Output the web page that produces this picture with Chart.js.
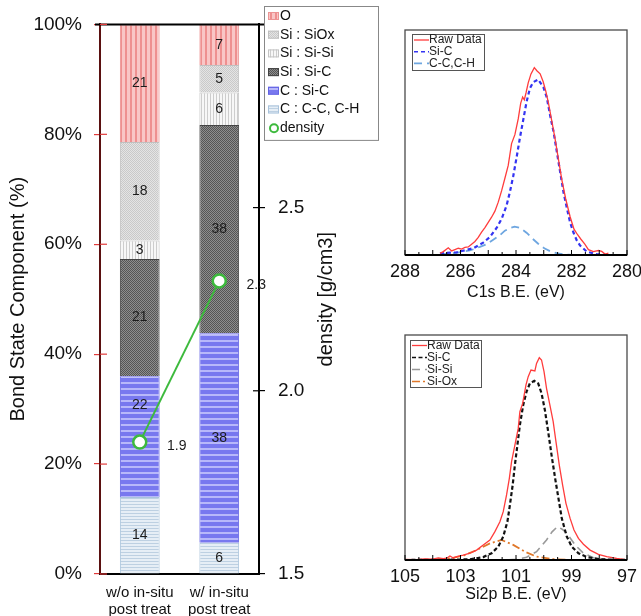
<!DOCTYPE html>
<html lang="en">
<head>
<meta charset="UTF-8">
<title>Bond state component and XPS spectra</title>
<script src="https://cdn.jsdelivr.net/npm/chart.js"></script>
<style>
  body { margin: 0; background: #fff; }
  #wrap { position: relative; width: 641px; height: 616px; overflow: hidden; }
  canvas { position: absolute; }
</style>
</head>
<body>
<div id="wrap">
  <canvas id="bondChart" width="390" height="616" style="left:0;top:0"></canvas>
  <canvas id="c1sChart" width="251" height="310" style="left:390px;top:0"></canvas>
  <canvas id="si2pChart" width="251" height="306" style="left:390px;top:310px"></canvas>
</div>

<script>
// ---- bond state bars (percent) ----
const groups = [['w/o in-situ', 'post treat'], ['w/ in-situ', 'post treat']];
const oPct = [21.4, 7.4];
const siOxPct = [17.9, 5.0];
const siSiPct = [3.4, 5.9];
const siCPct = [21.3, 37.9];
const cSiCPct = [22.0, 38.1];
const cCHPct = [14.0, 5.7];
const density = [1.86, 2.3];
const pctTicks = [0, 20, 40, 60, 80, 100];
const densityTicks = [1.5, 2.0, 2.5];

// ---- C1s spectrum ----
const c1sTickLabels = [288, 286, 284, 282, 280];
const c1sRawEV = [286.74, 286.62, 286.44, 286.32, 286.20, 286.08, 285.96, 285.84, 285.72, 285.60, 285.48, 285.36, 285.24, 285.12, 285.00, 284.88, 284.76, 284.64, 284.52, 284.40, 284.28, 284.16, 284.04, 283.92, 283.83, 283.76, 283.70, 283.64, 283.56, 283.46, 283.34, 283.24, 283.13, 283.02, 282.92, 282.83, 282.71, 282.59, 282.47, 282.35, 282.21, 282.05, 281.91, 281.78, 281.66, 281.52, 281.39, 281.21, 281.03, 280.91, 280.79, 280.67];
const c1sRaw = [0.7, 1.5, 3.2, 1.8, 2.4, 3.0, 2.6, 3.4, 3.6, 4.8, 6.0, 7.8, 10.2, 12.2, 14.5, 16.8, 19.5, 23.5, 28.5, 34.1, 39.8, 49.5, 53.5, 60.5, 67.5, 70.2, 69.0, 72.0, 76.5, 80.5, 83.3, 81.8, 80.5, 77.0, 72.5, 67.5, 59.5, 51.5, 42.5, 33.5, 25.0, 17.0, 11.5, 9.0, 7.0, 4.8, 2.4, 1.5, 2.0, 1.6, 0.4, 0.8];
const c1sSiCEV = [286.74, 286.14, 285.54, 285.18, 284.94, 284.70, 284.52, 284.34, 284.22, 284.10, 283.97, 283.86, 283.74, 283.62, 283.50, 283.38, 283.20, 283.01, 282.89, 282.77, 282.65, 282.53, 282.41, 282.29, 282.17, 282.05, 281.93, 281.81, 281.69, 281.45, 281.10, 280.73];
const c1sSiC = [0.7, 1.2, 3.0, 5.5, 8.0, 12.0, 16.0, 22.0, 28.0, 35.0, 44.0, 52.0, 60.0, 68.0, 74.0, 76.8, 78.0, 74.5, 70.0, 62.0, 55.0, 46.0, 37.0, 28.0, 21.0, 14.5, 10.0, 6.5, 4.2, 1.5, 0.4, 0];
const c1sCCEV = [286.74, 286.14, 285.66, 285.30, 285.06, 284.82, 284.58, 284.40, 284.22, 284.05, 283.85, 283.61, 283.40, 283.20, 282.98, 282.77, 282.50, 282.20, 281.90];
const c1sCC = [0.3, 1.0, 2.0, 3.6, 4.8, 6.8, 8.8, 10.8, 12.0, 12.6, 12.0, 9.8, 7.2, 5.0, 3.0, 1.7, 0.7, 0.2, 0];

// ---- Si2p spectrum ----
const si2pTickLabels = [105, 103, 101, 99, 97];
const si2pRawEV = [105.0, 104.6, 104.3, 104.0, 103.8, 103.62, 103.50, 103.38, 103.26, 103.14, 102.90, 102.66, 102.42, 102.18, 101.94, 101.76, 101.58, 101.46, 101.34, 101.24, 101.16, 101.04, 100.92, 100.86, 100.76, 100.64, 100.56, 100.46, 100.32, 100.26, 100.16, 100.08, 99.99, 99.90, 99.78, 99.66, 99.56, 99.44, 99.32, 99.20, 99.05, 98.91, 98.75, 98.57, 98.33, 98.03, 97.73, 97.37, 97.0];
const si2pRaw = [0.3, 0.2, 0.5, 0.4, 0.9, 0.6, 0.8, 1.8, 0.9, 1.5, 2.2, 3.0, 4.4, 6.7, 8.9, 12.6, 17.0, 21.5, 28.9, 36.3, 43.7, 51.1, 58.5, 65.9, 69.6, 77.8, 81.5, 84.4, 84.0, 87.4, 89.9, 88.9, 83.7, 76.3, 68.9, 61.5, 52.6, 42.2, 33.3, 25.2, 18.5, 13.3, 9.6, 7.0, 4.4, 2.5, 1.5, 0.7, 0];
const si2pSiCEV = [105.0, 103.5, 102.66, 102.18, 101.88, 101.64, 101.46, 101.31, 101.22, 101.12, 101.04, 100.95, 100.86, 100.74, 100.62, 100.50, 100.34, 100.20, 100.08, 99.96, 99.84, 99.72, 99.59, 99.47, 99.35, 99.17, 98.99, 98.75, 98.45, 97.97, 97.0];
const si2pSiC = [0, 0.1, 0.3, 1.3, 3.0, 5.9, 10.4, 17.0, 24.4, 33.3, 42.2, 51.1, 60.0, 68.9, 74.8, 78.5, 79.6, 78.5, 74.1, 66.7, 57.0, 46.7, 36.3, 27.4, 18.5, 10.4, 5.9, 3.0, 1.3, 0.3, 0];
const si2pSiSiEV = [105.0, 101.5, 100.98, 100.62, 100.26, 99.90, 99.70, 99.51, 99.35, 99.17, 98.87, 98.57, 98.21, 97.73, 97.0];
const si2pSiSi = [0, 0, 0.3, 1.2, 3.7, 8.9, 12.5, 14.8, 13.8, 11.9, 6.7, 3.0, 1.0, 0.2, 0];
const si2pSiOxEV = [105.0, 104.5, 103.98, 103.38, 102.90, 102.42, 101.94, 101.52, 101.10, 100.68, 100.26, 99.66, 98.93, 97.0];
const si2pSiOx = [0, 0.05, 0.1, 0.7, 1.9, 4.4, 7.4, 8.9, 6.7, 3.7, 1.5, 0.4, 0, 0];

Chart.defaults.font.family = '"Liberation Sans", Arial, sans-serif';
Chart.defaults.color = '#111';
Chart.defaults.animation = false;
Chart.defaults.plugins.legend.display = false;
Chart.defaults.plugins.tooltip.enabled = false;

const bondCtx = document.getElementById('bondChart').getContext('2d');

function pattern(w, h, paint) {
  const c = document.createElement('canvas');
  c.width = w; c.height = h;
  paint(c.getContext('2d'));
  return bondCtx.createPattern(c, 'repeat');
}

const fills = {
  o: pattern(5, 1, g => { g.fillStyle = '#f9c6c6'; g.fillRect(0, 0, 5, 1); g.fillStyle = '#ee9090'; g.fillRect(0, 0, 2, 1); }),
  siOx: pattern(2, 2, g => { g.fillStyle = '#e4e4e4'; g.fillRect(0, 0, 2, 2); g.fillStyle = '#c9c9c9'; g.fillRect(0, 0, 1, 1); g.fillRect(1, 1, 1, 1); }),
  siSi: pattern(3, 1, g => { g.fillStyle = '#f7f7f7'; g.fillRect(0, 0, 3, 1); g.fillStyle = '#cdcdcd'; g.fillRect(0, 0, 1, 1); }),
  siC: pattern(2, 2, g => { g.fillStyle = '#8e8e8e'; g.fillRect(0, 0, 2, 2); g.fillStyle = '#555'; g.fillRect(0, 0, 1, 1); g.fillRect(1, 1, 1, 1); }),
  cSiC: pattern(1, 6, g => { g.fillStyle = '#7878ef'; g.fillRect(0, 0, 1, 6); g.fillStyle = '#b8b8fa'; g.fillRect(0, 4, 1, 2); }),
  cCH: pattern(1, 3, g => { g.fillStyle = '#e6eef6'; g.fillRect(0, 0, 1, 3); g.fillStyle = '#bdd0e2'; g.fillRect(0, 0, 1, 1); })
};

const bar = (label, data, fill, edge) => ({
  type: 'bar', label, data, backgroundColor: fill, borderColor: edge, borderWidth: 1,
  yAxisID: 'y', order: 1, barPercentage: 0.5, categoryPercentage: 1
});

const bondDecor = {
  id: 'bondDecor',
  afterDatasetsDraw(chart) {
    const ctx = chart.ctx;
    const lineIdx = chart.data.datasets.findIndex(d => d.type === 'line');
    const marks = chart.getDatasetMeta(lineIdx).data;
    ctx.save();
    ctx.font = '14px "Liberation Sans", Arial, sans-serif';
    ctx.fillStyle = '#1c1c1c';
    ctx.textAlign = 'center';
    ctx.textBaseline = 'middle';
    chart.data.datasets.forEach((ds, di) => {
      const meta = chart.getDatasetMeta(di);
      meta.data.forEach((el, i) => {
        if (ds.type === 'bar') {
          let cy = (el.y + el.base) / 2;
          // keep the number clear of the density marker
          const m = marks[i];
          if (m && Math.abs(m.y - cy) < 18) cy = m.y - 37;
          ctx.fillText(String(Math.round(ds.data[i])), el.x, cy);
        } else {
          ctx.fillText(ds.data[i].toFixed(1), el.x + 37, el.y + 4);
        }
      });
    });
    ctx.restore();
  },
  afterDraw(chart) {
    const { ctx, chartArea: a, scales } = chart;
    ctx.save();
    // frame top
    ctx.strokeStyle = '#000';
    ctx.lineWidth = 2;
    ctx.beginPath(); ctx.moveTo(a.left - 5, a.top); ctx.lineTo(a.right + 5, a.top); ctx.stroke();
    // inward tick marks
    ctx.lineWidth = 1.2;
    ctx.strokeStyle = '#e03a3a';
    scales.y.ticks.forEach(t => {
      const py = scales.y.getPixelForValue(t.value);
      ctx.beginPath(); ctx.moveTo(a.left, py); ctx.lineTo(a.left + 7, py); ctx.stroke();
    });
    ctx.strokeStyle = '#000';
    scales.y1.ticks.forEach(t => {
      const py = scales.y1.getPixelForValue(t.value);
      ctx.beginPath(); ctx.moveTo(a.right - 6, py); ctx.lineTo(a.right, py); ctx.stroke();
    });
    // right axis title, reading bottom to top
    ctx.translate(326, (a.top + a.bottom) / 2);
    ctx.rotate(-Math.PI / 2);
    ctx.font = '20px "Liberation Sans", Arial, sans-serif';
    ctx.fillStyle = '#111';
    ctx.textAlign = 'center';
    ctx.textBaseline = 'middle';
    ctx.fillText('density [g/cm3]', 0, 0);
    ctx.restore();

    // legend, top entry first
    ctx.save();
    const bx = 264, by = 6, bw = 114, step = 18.7;
    const items = chart.data.datasets.slice(0, 6).reverse().concat(chart.data.datasets[6]);
    const bh = 3 + step * items.length;
    ctx.fillStyle = '#fff';
    ctx.fillRect(bx, by, bw, bh);
    ctx.strokeStyle = '#888';
    ctx.lineWidth = 1;
    ctx.strokeRect(bx + 0.5, by + 0.5, bw, bh);
    ctx.font = '14px "Liberation Sans", Arial, sans-serif';
    ctx.textBaseline = 'middle';
    items.forEach((ds, i) => {
      const cy = by + 10 + i * step;
      if (ds.type === 'bar') {
        ctx.fillStyle = ds.backgroundColor;
        ctx.fillRect(bx + 4, cy - 4, 11, 8);
        ctx.strokeStyle = ds.borderColor;
        ctx.strokeRect(bx + 4.5, cy - 3.5, 10, 7);
      } else {
        ctx.beginPath();
        ctx.arc(bx + 10, cy, 4, 0, Math.PI * 2);
        ctx.fillStyle = '#fff'; ctx.fill();
        ctx.strokeStyle = ds.borderColor; ctx.lineWidth = 2; ctx.stroke();
        ctx.lineWidth = 1;
      }
      ctx.fillStyle = '#111';
      ctx.fillText(ds.label, bx + 16, cy);
    });
    ctx.restore();
  }
};

new Chart(bondCtx, {
  data: {
    labels: groups,
    datasets: [
      bar('C : C-C, C-H', cCHPct, fills.cCH, '#a9c3dc'),
      bar('C : Si-C', cSiCPct, fills.cSiC, '#6464e4'),
      bar('Si : Si-C', siCPct, fills.siC, '#444'),
      bar('Si : Si-Si', siSiPct, fills.siSi, '#c4c4c4'),
      bar('Si : SiOx', siOxPct, fills.siOx, '#c0c0c0'),
      bar('O', oPct, fills.o, '#ec9494'),
      {
        type: 'line', label: 'density', data: density, yAxisID: 'y1', order: 0,
        borderColor: '#3dba3d', borderWidth: 2,
        pointRadius: 6.5, pointBackgroundColor: '#fff', pointBorderColor: '#3dba3d', pointBorderWidth: 2.5
      }
    ]
  },
  options: {
    responsive: false,
    layout: { padding: { top: 21, right: 50, bottom: 0, left: 0 } },
    scales: {
      x: {
        stacked: true,
        grid: { display: false, drawTicks: false },
        border: { color: '#000', width: 2 },
        ticks: { padding: 10, font: { size: 15, lineHeight: 1.15 }, color: '#111', maxRotation: 0 },
        afterFit: s => { s.height = 42; }
      },
      y: {
        position: 'left', stacked: true, min: 0, max: 100,
        grid: { drawOnChartArea: false, color: '#e03a3a', tickColor: '#e03a3a', tickLength: 6, lineWidth: 1.2 },
        border: { color: '#5a1010', width: 2 },
        ticks: { padding: 12, font: { size: 19 }, color: '#111', callback: v => v + '%' },
        title: { display: true, text: 'Bond State Component (%)', font: { size: 20 }, color: '#111', padding: { top: 6, bottom: 0 } },
        afterBuildTicks: s => { s.ticks = pctTicks.map(v => ({ value: v })); },
        afterFit: s => { s.width = 100; }
      },
      y1: {
        position: 'right', min: 1.5, max: 3.0,
        grid: { drawOnChartArea: false, color: '#000', tickColor: '#000', tickLength: 6, lineWidth: 1.2 },
        border: { color: '#000', width: 2 },
        ticks: { padding: 13, font: { size: 19 }, color: '#111', callback: v => v.toFixed(1) },
        afterBuildTicks: s => { s.ticks = densityTicks.map(v => ({ value: v })); },
        afterFit: s => { s.width = 81; }
      }
    }
  },
  plugins: [bondDecor]
});

// ---- spectra ----
const pts = (xs, ys) => xs.map((x, i) => ({ x, y: ys[i] }));

const spectrumDecor = {
  id: 'spectrumDecor',
  afterDraw(chart, args, opts) {
    const { ctx, chartArea: a, scales: { x } } = chart;
    ctx.save();
    ctx.setLineDash([]);
    ctx.strokeStyle = '#4a4a4a';
    ctx.lineWidth = 1.3;
    ctx.strokeRect(a.left, a.top, a.right - a.left, a.bottom - a.top);
    ctx.strokeStyle = '#000';
    ctx.lineWidth = 2;
    ctx.beginPath(); ctx.moveTo(a.left, a.bottom); ctx.lineTo(a.right, a.bottom); ctx.stroke();
    ctx.lineWidth = 1;
    x.ticks.forEach(t => {
      const px = x.getPixelForValue(t.value);
      const len = Number.isInteger(t.value) ? 5 : 3;
      ctx.beginPath(); ctx.moveTo(px, a.bottom); ctx.lineTo(px, a.bottom - len); ctx.stroke();
    });
    // legend box
    const lx = a.left + opts.dx, ly = a.top + opts.dy;
    ctx.fillStyle = '#fff';
    ctx.fillRect(lx, ly, opts.w, opts.h);
    ctx.strokeStyle = '#555';
    ctx.lineWidth = 1;
    ctx.strokeRect(lx + 0.5, ly + 0.5, opts.w, opts.h);
    ctx.font = '12px "Liberation Sans", Arial, sans-serif';
    ctx.textBaseline = 'middle';
    chart.data.datasets.forEach((ds, i) => {
      const cy = ly + opts.first + i * opts.step;
      ctx.strokeStyle = ds.borderColor;
      ctx.lineWidth = Math.min(ds.borderWidth, 1.6);
      ctx.setLineDash(ds.borderDash || []);
      ctx.beginPath(); ctx.moveTo(lx + 2, cy); ctx.lineTo(lx + 17, cy); ctx.stroke();
      ctx.setLineDash([]);
      ctx.fillStyle = '#222';
      ctx.fillText(ds.label, lx + 17, cy);
    });
    ctx.restore();
  }
};

function spectrum(id, range, tickLabels, title, titlePad, padTop, axisHeight, datasets, legend) {
  new Chart(document.getElementById(id), {
    type: 'line',
    data: { datasets },
    options: {
      responsive: false,
      layout: { padding: { top: padTop, right: 14, bottom: 0, left: 15 } },
      elements: { point: { radius: 0 }, line: { tension: 0 } },
      scales: {
        x: {
          type: 'linear', reverse: true, min: range[0], max: range[1],
          grid: { display: false, drawTicks: false },
          border: { display: false },
          ticks: {
            stepSize: 0.5, autoSkip: false, maxRotation: 0, padding: 6,
            font: { size: 18 }, color: '#111',
            callback: v => tickLabels.includes(v) ? String(v) : ''
          },
          title: { display: true, text: title, font: { size: 16 }, color: '#111', padding: { top: 0, bottom: titlePad } },
          afterFit: s => { s.height = axisHeight; s.paddingLeft = 0; s.paddingRight = 0; }
        },
        y: { display: false, min: 0, max: 100 }
      },
      plugins: { spectrumDecor: legend }
    },
    plugins: [spectrumDecor]
  });
}

spectrum('c1sChart', [280, 288], c1sTickLabels, 'C1s B.E. (eV)', 8, 30, 55, [
  { label: 'Raw Data', data: pts(c1sRawEV, c1sRaw), borderColor: '#ff3c3c', borderWidth: 1.3 },
  { label: 'Si-C', data: pts(c1sSiCEV, c1sSiC), borderColor: '#3434f2', borderWidth: 2.2, borderDash: [4, 3] },
  { label: 'C-C,C-H', data: pts(c1sCCEV, c1sCC), borderColor: '#6ea6e0', borderWidth: 1.8, borderDash: [8, 5] }
], { dx: 7, dy: 4, w: 72, h: 36, first: 6, step: 11.7 });

spectrum('si2pChart', [97, 105], si2pTickLabels, 'Si2p B.E. (eV)', 12, 25, 56, [
  { label: 'Raw Data', data: pts(si2pRawEV, si2pRaw), borderColor: '#ff3c3c', borderWidth: 1.3 },
  { label: 'Si-C', data: pts(si2pSiCEV, si2pSiC), borderColor: '#111', borderWidth: 2.2, borderDash: [4, 2.5] },
  { label: 'Si-Si', data: pts(si2pSiSiEV, si2pSiSi), borderColor: '#999', borderWidth: 1.6, borderDash: [8, 5] },
  { label: 'Si-Ox', data: pts(si2pSiOxEV, si2pSiOx), borderColor: '#e0782a', borderWidth: 1.8, borderDash: [8, 3, 2, 3] }
], { dx: 5, dy: 5, w: 71, h: 47, first: 5.5, step: 12 });
</script>
</body>
</html>
